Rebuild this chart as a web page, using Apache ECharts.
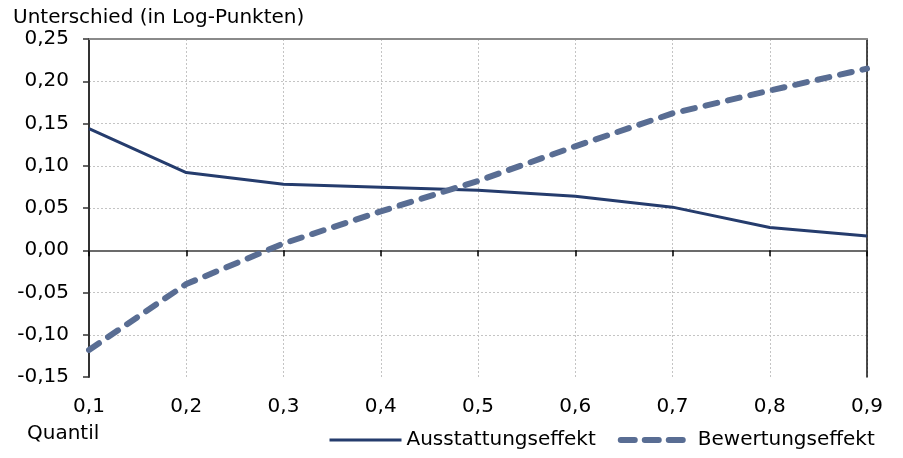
<!DOCTYPE html>
<html><head><meta charset="utf-8">
<script src="https://cdn.jsdelivr.net/npm/echarts@6/dist/echarts.min.js"></script>
<style>html,body{margin:0;padding:0;background:#fff}#c{width:903px;height:458px}</style>
</head><body><div id="c"></div>
<script>
const quantiles = ['0,1','0,2','0,3','0,4','0,5','0,6','0,7','0,8','0,9'];
const ausstattung = [0.144, 0.092, 0.078, 0.0745, 0.071, 0.064, 0.051, 0.027, 0.017];
const bewertung = [-0.118, -0.040, 0.008, 0.046, 0.082, 0.123, 0.162, 0.189, 0.215];
const FONT = 'DejaVu Sans';
const chart = echarts.init(document.getElementById('c'));
const fmtY = v => v.toFixed(2).replace('.', ',');
const DASH = [12, 11];
chart.setOption({
  animation: false,
  textStyle: {fontFamily: FONT},
  title: {text: 'Unterschied (in Log-Punkten)', left: 8, top: 3,
    textStyle: {fontFamily: FONT, fontSize: 20, fontWeight: 'normal', color: '#000'}},
  grid: {left: 89, right: 36, top: 39, bottom: 81},
  graphic: [{type: 'text', left: 27, top: 424,
    style: {text: 'Quantil', fontFamily: FONT, fontSize: 20, fill: '#000'}}],
  legend: {left: 328, top: 430, itemWidth: 72, itemHeight: 14, itemGap: 22, padding: 0,
    textStyle: {fontFamily: FONT, fontSize: 20, color: '#000'},
    itemStyle: {opacity: 0},
    data: [
      {name: 'Ausstattungseffekt', itemStyle: {opacity: 0},
       lineStyle: {color: '#253c6d', width: 3, type: 'solid'}},
      {name: 'Bewertungseffekt', itemStyle: {opacity: 0},
       lineStyle: {color: '#596d93', width: 6, type: [14, 10], cap: 'round'}}
    ]},
  xAxis: [
    {type: 'category', data: quantiles, boundaryGap: false, position: 'bottom',
     axisLine: {show: false, onZero: false}, axisTick: {show: false},
     axisLabel: {margin: 20, fontFamily: FONT, fontSize: 20, color: '#000'},
     splitLine: {show: true, lineStyle: {type: [2, 2], color: '#c4c4c4', width: 1}}},
    {type: 'category', data: quantiles, boundaryGap: false, position: 'bottom',
     axisLine: {show: true, onZero: true, lineStyle: {color: '#6b6b6b', width: 2}},
     axisTick: {show: true, length: 6, lineStyle: {color: '#000', width: 1.5}},
     axisLabel: {show: false}, splitLine: {show: false}},
    {type: 'category', data: quantiles, boundaryGap: false, position: 'top',
     axisLine: {show: true, onZero: false, lineStyle: {color: '#8a8a8a', width: 2}},
     axisTick: {show: false}, axisLabel: {show: false}, splitLine: {show: false}}
  ],
  yAxis: [
    {type: 'value', min: -0.15, max: 0.25, interval: 0.05, position: 'left',
     axisLine: {show: true, lineStyle: {color: '#333', width: 2}},
     axisTick: {show: true, length: 6, lineStyle: {color: '#333', width: 1.5}},
     axisLabel: {margin: 20, formatter: fmtY, fontFamily: FONT, fontSize: 20, color: '#000'},
     splitLine: {show: true, showMinLine: false, lineStyle: {type: [2, 2], color: '#c4c4c4', width: 1}}},
    {type: 'value', min: -0.15, max: 0.25, interval: 0.05, position: 'right',
     axisLine: {show: true, lineStyle: {color: '#111', width: 1.5}},
     axisTick: {show: false}, axisLabel: {show: false}, splitLine: {show: false}}
  ],
  series: [
    {name: 'Ausstattungseffekt', type: 'line', data: ausstattung, symbol: 'none',
     xAxisIndex: 0, yAxisIndex: 0, color: '#253c6d',
     lineStyle: {color: '#253c6d', width: 3}},
    {name: 'Bewertungseffekt', type: 'line', data: bewertung, symbol: 'none',
     xAxisIndex: 0, yAxisIndex: 0, color: '#596d93',
     lineStyle: {color: '#596d93', width: 6, type: DASH, cap: 'round'}}
  ]
});
</script></body></html>
